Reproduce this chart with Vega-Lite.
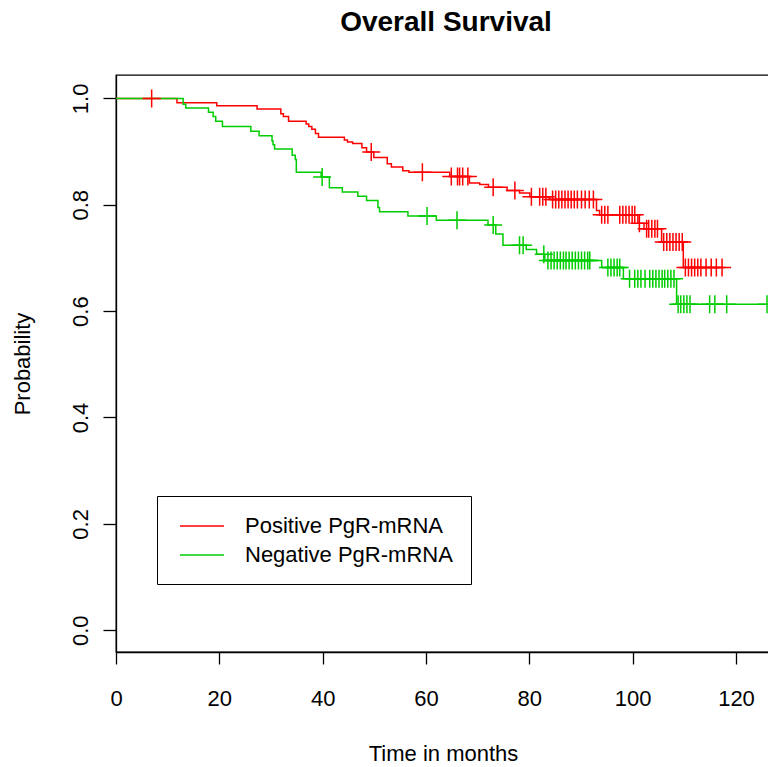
{
  "$schema": "https://vega.github.io/schema/vega-lite/v6.json",
  "width": 654,
  "height": 577,
  "autosize": "none",
  "padding": {"left": 116, "top": 75, "right": 0, "bottom": 115},
  "background": "white",
  "config": {
    "font": "Liberation Sans",
    "view": {"stroke": "black", "strokeWidth": 1.3},
    "axis": {"grid": false, "domainColor": "black", "tickColor": "black", "labelColor": "black", "titleColor": "black", "domainWidth": 1.3, "tickWidth": 1.3, "labelFont": "Liberation Sans", "titleFont": "Liberation Sans", "titleFontWeight": "normal"}
  },
  "title": {"text": "Overall Survival", "fontSize": 28, "fontWeight": "bold", "font": "Liberation Sans", "color": "black", "anchor": "middle", "offset": 38, "dx": 3},
  "datasets": {
    "km": [
      {"group": "Positive PgR-mRNA", "time": 0, "surv": 1.0, "censored": 0},
      {"group": "Positive PgR-mRNA", "time": 6.9, "surv": 1.0, "censored": 1},
      {"group": "Positive PgR-mRNA", "time": 11.8, "surv": 0.992, "censored": 0},
      {"group": "Positive PgR-mRNA", "time": 19.5, "surv": 0.986, "censored": 0},
      {"group": "Positive PgR-mRNA", "time": 27.3, "surv": 0.980, "censored": 0},
      {"group": "Positive PgR-mRNA", "time": 31.9, "surv": 0.971, "censored": 0},
      {"group": "Positive PgR-mRNA", "time": 32.4, "surv": 0.966, "censored": 0},
      {"group": "Positive PgR-mRNA", "time": 33.4, "surv": 0.957, "censored": 0},
      {"group": "Positive PgR-mRNA", "time": 36.8, "surv": 0.952, "censored": 0},
      {"group": "Positive PgR-mRNA", "time": 37.3, "surv": 0.947, "censored": 0},
      {"group": "Positive PgR-mRNA", "time": 37.9, "surv": 0.942, "censored": 0},
      {"group": "Positive PgR-mRNA", "time": 38.6, "surv": 0.934, "censored": 0},
      {"group": "Positive PgR-mRNA", "time": 39.2, "surv": 0.927, "censored": 0},
      {"group": "Positive PgR-mRNA", "time": 44.2, "surv": 0.922, "censored": 0},
      {"group": "Positive PgR-mRNA", "time": 44.8, "surv": 0.918, "censored": 0},
      {"group": "Positive PgR-mRNA", "time": 45.8, "surv": 0.915, "censored": 0},
      {"group": "Positive PgR-mRNA", "time": 47.6, "surv": 0.907, "censored": 0},
      {"group": "Positive PgR-mRNA", "time": 48.5, "surv": 0.899, "censored": 0},
      {"group": "Positive PgR-mRNA", "time": 49.4, "surv": 0.899, "censored": 1},
      {"group": "Positive PgR-mRNA", "time": 49.9, "surv": 0.889, "censored": 0},
      {"group": "Positive PgR-mRNA", "time": 52.5, "surv": 0.877, "censored": 0},
      {"group": "Positive PgR-mRNA", "time": 53.3, "surv": 0.871, "censored": 0},
      {"group": "Positive PgR-mRNA", "time": 55.5, "surv": 0.864, "censored": 0},
      {"group": "Positive PgR-mRNA", "time": 56.7, "surv": 0.861, "censored": 0},
      {"group": "Positive PgR-mRNA", "time": 59.3, "surv": 0.861, "censored": 1},
      {"group": "Positive PgR-mRNA", "time": 64.6, "surv": 0.853, "censored": 0},
      {"group": "Positive PgR-mRNA", "time": 64.9, "surv": 0.853, "censored": 1},
      {"group": "Positive PgR-mRNA", "time": 66.1, "surv": 0.853, "censored": 1},
      {"group": "Positive PgR-mRNA", "time": 66.5, "surv": 0.853, "censored": 1},
      {"group": "Positive PgR-mRNA", "time": 67.1, "surv": 0.853, "censored": 1},
      {"group": "Positive PgR-mRNA", "time": 68.1, "surv": 0.853, "censored": 1},
      {"group": "Positive PgR-mRNA", "time": 68.4, "surv": 0.841, "censored": 0},
      {"group": "Positive PgR-mRNA", "time": 70.4, "surv": 0.838, "censored": 0},
      {"group": "Positive PgR-mRNA", "time": 72.1, "surv": 0.833, "censored": 0},
      {"group": "Positive PgR-mRNA", "time": 73.0, "surv": 0.833, "censored": 1},
      {"group": "Positive PgR-mRNA", "time": 75.7, "surv": 0.827, "censored": 0},
      {"group": "Positive PgR-mRNA", "time": 77.2, "surv": 0.827, "censored": 1},
      {"group": "Positive PgR-mRNA", "time": 78.1, "surv": 0.822, "censored": 0},
      {"group": "Positive PgR-mRNA", "time": 80.1, "surv": 0.815, "censored": 0},
      {"group": "Positive PgR-mRNA", "time": 80.4, "surv": 0.815, "censored": 1},
      {"group": "Positive PgR-mRNA", "time": 82.0, "surv": 0.815, "censored": 1},
      {"group": "Positive PgR-mRNA", "time": 82.6, "surv": 0.815, "censored": 1},
      {"group": "Positive PgR-mRNA", "time": 83.2, "surv": 0.815, "censored": 1},
      {"group": "Positive PgR-mRNA", "time": 83.9, "surv": 0.810, "censored": 0},
      {"group": "Positive PgR-mRNA", "time": 84.5, "surv": 0.810, "censored": 1},
      {"group": "Positive PgR-mRNA", "time": 85.1, "surv": 0.810, "censored": 1},
      {"group": "Positive PgR-mRNA", "time": 85.7, "surv": 0.810, "censored": 1},
      {"group": "Positive PgR-mRNA", "time": 86.3, "surv": 0.810, "censored": 1},
      {"group": "Positive PgR-mRNA", "time": 86.9, "surv": 0.810, "censored": 1},
      {"group": "Positive PgR-mRNA", "time": 87.5, "surv": 0.810, "censored": 1},
      {"group": "Positive PgR-mRNA", "time": 88.1, "surv": 0.810, "censored": 1},
      {"group": "Positive PgR-mRNA", "time": 88.7, "surv": 0.810, "censored": 1},
      {"group": "Positive PgR-mRNA", "time": 89.3, "surv": 0.810, "censored": 1},
      {"group": "Positive PgR-mRNA", "time": 90.1, "surv": 0.810, "censored": 1},
      {"group": "Positive PgR-mRNA", "time": 90.8, "surv": 0.810, "censored": 1},
      {"group": "Positive PgR-mRNA", "time": 91.6, "surv": 0.810, "censored": 1},
      {"group": "Positive PgR-mRNA", "time": 92.4, "surv": 0.810, "censored": 1},
      {"group": "Positive PgR-mRNA", "time": 93.0, "surv": 0.789, "censored": 0},
      {"group": "Positive PgR-mRNA", "time": 93.6, "surv": 0.781, "censored": 0},
      {"group": "Positive PgR-mRNA", "time": 94.0, "surv": 0.781, "censored": 1},
      {"group": "Positive PgR-mRNA", "time": 94.6, "surv": 0.781, "censored": 1},
      {"group": "Positive PgR-mRNA", "time": 95.2, "surv": 0.781, "censored": 1},
      {"group": "Positive PgR-mRNA", "time": 97.5, "surv": 0.781, "censored": 1},
      {"group": "Positive PgR-mRNA", "time": 98.1, "surv": 0.781, "censored": 1},
      {"group": "Positive PgR-mRNA", "time": 98.7, "surv": 0.781, "censored": 1},
      {"group": "Positive PgR-mRNA", "time": 99.3, "surv": 0.781, "censored": 1},
      {"group": "Positive PgR-mRNA", "time": 99.9, "surv": 0.781, "censored": 1},
      {"group": "Positive PgR-mRNA", "time": 100.4, "surv": 0.781, "censored": 1},
      {"group": "Positive PgR-mRNA", "time": 101.0, "surv": 0.765, "censored": 0},
      {"group": "Positive PgR-mRNA", "time": 101.3, "surv": 0.765, "censored": 1},
      {"group": "Positive PgR-mRNA", "time": 102.2, "surv": 0.755, "censored": 0},
      {"group": "Positive PgR-mRNA", "time": 102.7, "surv": 0.755, "censored": 1},
      {"group": "Positive PgR-mRNA", "time": 103.1, "surv": 0.755, "censored": 1},
      {"group": "Positive PgR-mRNA", "time": 103.7, "surv": 0.755, "censored": 1},
      {"group": "Positive PgR-mRNA", "time": 104.3, "surv": 0.755, "censored": 1},
      {"group": "Positive PgR-mRNA", "time": 104.8, "surv": 0.755, "censored": 1},
      {"group": "Positive PgR-mRNA", "time": 105.6, "surv": 0.730, "censored": 0},
      {"group": "Positive PgR-mRNA", "time": 106.0, "surv": 0.730, "censored": 1},
      {"group": "Positive PgR-mRNA", "time": 106.6, "surv": 0.730, "censored": 1},
      {"group": "Positive PgR-mRNA", "time": 107.2, "surv": 0.730, "censored": 1},
      {"group": "Positive PgR-mRNA", "time": 107.8, "surv": 0.730, "censored": 1},
      {"group": "Positive PgR-mRNA", "time": 108.4, "surv": 0.730, "censored": 1},
      {"group": "Positive PgR-mRNA", "time": 109.0, "surv": 0.730, "censored": 1},
      {"group": "Positive PgR-mRNA", "time": 109.6, "surv": 0.730, "censored": 1},
      {"group": "Positive PgR-mRNA", "time": 109.8, "surv": 0.682, "censored": 0},
      {"group": "Positive PgR-mRNA", "time": 110.2, "surv": 0.682, "censored": 1},
      {"group": "Positive PgR-mRNA", "time": 110.8, "surv": 0.682, "censored": 1},
      {"group": "Positive PgR-mRNA", "time": 111.4, "surv": 0.682, "censored": 1},
      {"group": "Positive PgR-mRNA", "time": 112.0, "surv": 0.682, "censored": 1},
      {"group": "Positive PgR-mRNA", "time": 112.6, "surv": 0.682, "censored": 1},
      {"group": "Positive PgR-mRNA", "time": 113.2, "surv": 0.682, "censored": 1},
      {"group": "Positive PgR-mRNA", "time": 114.2, "surv": 0.682, "censored": 1},
      {"group": "Positive PgR-mRNA", "time": 115.2, "surv": 0.682, "censored": 1},
      {"group": "Positive PgR-mRNA", "time": 116.2, "surv": 0.682, "censored": 1},
      {"group": "Positive PgR-mRNA", "time": 117.3, "surv": 0.682, "censored": 1},
      {"group": "Negative PgR-mRNA", "time": 0, "surv": 1.0, "censored": 0},
      {"group": "Negative PgR-mRNA", "time": 13.0, "surv": 0.989, "censored": 0},
      {"group": "Negative PgR-mRNA", "time": 13.5, "surv": 0.982, "censored": 0},
      {"group": "Negative PgR-mRNA", "time": 17.9, "surv": 0.974, "censored": 0},
      {"group": "Negative PgR-mRNA", "time": 18.8, "surv": 0.966, "censored": 0},
      {"group": "Negative PgR-mRNA", "time": 19.3, "surv": 0.957, "censored": 0},
      {"group": "Negative PgR-mRNA", "time": 20.6, "surv": 0.947, "censored": 0},
      {"group": "Negative PgR-mRNA", "time": 26.1, "surv": 0.938, "censored": 0},
      {"group": "Negative PgR-mRNA", "time": 27.7, "surv": 0.930, "censored": 0},
      {"group": "Negative PgR-mRNA", "time": 30.2, "surv": 0.920, "censored": 0},
      {"group": "Negative PgR-mRNA", "time": 30.4, "surv": 0.913, "censored": 0},
      {"group": "Negative PgR-mRNA", "time": 30.7, "surv": 0.905, "censored": 0},
      {"group": "Negative PgR-mRNA", "time": 34.1, "surv": 0.893, "censored": 0},
      {"group": "Negative PgR-mRNA", "time": 34.7, "surv": 0.885, "censored": 0},
      {"group": "Negative PgR-mRNA", "time": 34.9, "surv": 0.861, "censored": 0},
      {"group": "Negative PgR-mRNA", "time": 39.7, "surv": 0.852, "censored": 0},
      {"group": "Negative PgR-mRNA", "time": 39.9, "surv": 0.852, "censored": 1},
      {"group": "Negative PgR-mRNA", "time": 41.3, "surv": 0.832, "censored": 0},
      {"group": "Negative PgR-mRNA", "time": 43.8, "surv": 0.824, "censored": 0},
      {"group": "Negative PgR-mRNA", "time": 46.8, "surv": 0.816, "censored": 0},
      {"group": "Negative PgR-mRNA", "time": 48.5, "surv": 0.808, "censored": 0},
      {"group": "Negative PgR-mRNA", "time": 50.7, "surv": 0.795, "censored": 0},
      {"group": "Negative PgR-mRNA", "time": 51.0, "surv": 0.787, "censored": 0},
      {"group": "Negative PgR-mRNA", "time": 56.5, "surv": 0.779, "censored": 0},
      {"group": "Negative PgR-mRNA", "time": 60.2, "surv": 0.779, "censored": 1},
      {"group": "Negative PgR-mRNA", "time": 62.0, "surv": 0.771, "censored": 0},
      {"group": "Negative PgR-mRNA", "time": 66.0, "surv": 0.771, "censored": 1},
      {"group": "Negative PgR-mRNA", "time": 72.0, "surv": 0.762, "censored": 0},
      {"group": "Negative PgR-mRNA", "time": 73.0, "surv": 0.762, "censored": 1},
      {"group": "Negative PgR-mRNA", "time": 73.5, "surv": 0.745, "censored": 0},
      {"group": "Negative PgR-mRNA", "time": 74.9, "surv": 0.724, "censored": 0},
      {"group": "Negative PgR-mRNA", "time": 78.1, "surv": 0.724, "censored": 1},
      {"group": "Negative PgR-mRNA", "time": 78.8, "surv": 0.724, "censored": 1},
      {"group": "Negative PgR-mRNA", "time": 79.4, "surv": 0.716, "censored": 0},
      {"group": "Negative PgR-mRNA", "time": 81.4, "surv": 0.707, "censored": 0},
      {"group": "Negative PgR-mRNA", "time": 82.8, "surv": 0.707, "censored": 1},
      {"group": "Negative PgR-mRNA", "time": 83.0, "surv": 0.695, "censored": 0},
      {"group": "Negative PgR-mRNA", "time": 83.6, "surv": 0.695, "censored": 1},
      {"group": "Negative PgR-mRNA", "time": 84.2, "surv": 0.695, "censored": 1},
      {"group": "Negative PgR-mRNA", "time": 84.8, "surv": 0.695, "censored": 1},
      {"group": "Negative PgR-mRNA", "time": 85.4, "surv": 0.695, "censored": 1},
      {"group": "Negative PgR-mRNA", "time": 86.0, "surv": 0.695, "censored": 1},
      {"group": "Negative PgR-mRNA", "time": 86.6, "surv": 0.695, "censored": 1},
      {"group": "Negative PgR-mRNA", "time": 87.1, "surv": 0.695, "censored": 1},
      {"group": "Negative PgR-mRNA", "time": 87.7, "surv": 0.695, "censored": 1},
      {"group": "Negative PgR-mRNA", "time": 88.3, "surv": 0.695, "censored": 1},
      {"group": "Negative PgR-mRNA", "time": 88.9, "surv": 0.695, "censored": 1},
      {"group": "Negative PgR-mRNA", "time": 89.5, "surv": 0.695, "censored": 1},
      {"group": "Negative PgR-mRNA", "time": 90.1, "surv": 0.695, "censored": 1},
      {"group": "Negative PgR-mRNA", "time": 90.7, "surv": 0.695, "censored": 1},
      {"group": "Negative PgR-mRNA", "time": 91.3, "surv": 0.695, "censored": 1},
      {"group": "Negative PgR-mRNA", "time": 91.7, "surv": 0.695, "censored": 1},
      {"group": "Negative PgR-mRNA", "time": 94.0, "surv": 0.682, "censored": 0},
      {"group": "Negative PgR-mRNA", "time": 95.2, "surv": 0.682, "censored": 1},
      {"group": "Negative PgR-mRNA", "time": 95.8, "surv": 0.682, "censored": 1},
      {"group": "Negative PgR-mRNA", "time": 96.4, "surv": 0.682, "censored": 1},
      {"group": "Negative PgR-mRNA", "time": 97.0, "surv": 0.682, "censored": 1},
      {"group": "Negative PgR-mRNA", "time": 97.5, "surv": 0.682, "censored": 1},
      {"group": "Negative PgR-mRNA", "time": 98.2, "surv": 0.661, "censored": 0},
      {"group": "Negative PgR-mRNA", "time": 99.4, "surv": 0.661, "censored": 1},
      {"group": "Negative PgR-mRNA", "time": 100.4, "surv": 0.661, "censored": 1},
      {"group": "Negative PgR-mRNA", "time": 101.0, "surv": 0.661, "censored": 1},
      {"group": "Negative PgR-mRNA", "time": 101.6, "surv": 0.661, "censored": 1},
      {"group": "Negative PgR-mRNA", "time": 102.4, "surv": 0.661, "censored": 1},
      {"group": "Negative PgR-mRNA", "time": 103.3, "surv": 0.661, "censored": 1},
      {"group": "Negative PgR-mRNA", "time": 103.9, "surv": 0.661, "censored": 1},
      {"group": "Negative PgR-mRNA", "time": 104.5, "surv": 0.661, "censored": 1},
      {"group": "Negative PgR-mRNA", "time": 105.1, "surv": 0.661, "censored": 1},
      {"group": "Negative PgR-mRNA", "time": 105.7, "surv": 0.661, "censored": 1},
      {"group": "Negative PgR-mRNA", "time": 106.2, "surv": 0.661, "censored": 1},
      {"group": "Negative PgR-mRNA", "time": 106.8, "surv": 0.661, "censored": 1},
      {"group": "Negative PgR-mRNA", "time": 107.4, "surv": 0.661, "censored": 1},
      {"group": "Negative PgR-mRNA", "time": 108.0, "surv": 0.661, "censored": 1},
      {"group": "Negative PgR-mRNA", "time": 108.5, "surv": 0.613, "censored": 0},
      {"group": "Negative PgR-mRNA", "time": 108.8, "surv": 0.613, "censored": 1},
      {"group": "Negative PgR-mRNA", "time": 109.3, "surv": 0.613, "censored": 1},
      {"group": "Negative PgR-mRNA", "time": 109.9, "surv": 0.613, "censored": 1},
      {"group": "Negative PgR-mRNA", "time": 110.5, "surv": 0.613, "censored": 1},
      {"group": "Negative PgR-mRNA", "time": 111.1, "surv": 0.613, "censored": 1},
      {"group": "Negative PgR-mRNA", "time": 114.9, "surv": 0.613, "censored": 1},
      {"group": "Negative PgR-mRNA", "time": 115.9, "surv": 0.613, "censored": 1},
      {"group": "Negative PgR-mRNA", "time": 118.2, "surv": 0.613, "censored": 1},
      {"group": "Negative PgR-mRNA", "time": 126.0, "surv": 0.613, "censored": 1}
    ]
  },
  "data": {"name": "km"},
  "encoding": {
    "x": {"field": "time", "type": "quantitative", "scale": {"domain": [0, 126.58], "nice": false, "zero": false},
      "axis": {"title": "Time in months", "values": [0, 20, 40, 60, 80, 100, 120], "tickSize": 12, "labelFontSize": 22, "labelBaseline": "top", "labelPadding": 24, "titleFontSize": 22, "titlePadding": 34, "labelFlush": false, "labelOverlap": false}},
    "y": {"field": "surv", "type": "quantitative", "scale": {"domain": [-0.041, 1.044], "nice": false, "zero": false},
      "axis": {"title": "Probability", "values": [0, 0.2, 0.4, 0.6, 0.8, 1.0], "format": ".1f", "tickSize": 13, "labelFontSize": 22, "labelAngle": 270, "labelAlign": "center", "labelBaseline": "alphabetic", "labelPadding": 16, "titleFontSize": 22, "titlePadding": 35, "labelFlush": false, "labelOverlap": false}}
  },
  "layer": [
    {
      "mark": {"type": "line", "interpolate": "step-after", "strokeWidth": 1.5, "clip": true},
      "encoding": {
        "color": {"field": "group", "type": "nominal",
          "scale": {"domain": ["Positive PgR-mRNA", "Negative PgR-mRNA"], "range": ["#ff0000", "#00cd00"]},
          "legend": {"title": null, "orient": "none", "legendX": 41, "legendY": 421, "strokeColor": "black", "padding": 18, "symbolType": "M-2,0H2", "symbolSize": 484, "symbolStrokeWidth": 1.5, "symbolOffset": 15, "labelOffset": 31, "labelFontSize": 22, "labelFont": "Liberation Sans", "labelColor": "black", "rowPadding": 6, "labelLimit": 400}}
      }
    },
    {
      "transform": [{"filter": "datum.censored == 1"}],
      "mark": {"type": "point", "shape": "M-1,0H1M0,-1V1", "filled": false, "size": 324, "strokeWidth": 1.5, "opacity": 1, "clip": true},
      "encoding": {
        "stroke": {"field": "group", "type": "nominal",
          "scale": {"domain": ["Positive PgR-mRNA", "Negative PgR-mRNA"], "range": ["#ff0000", "#00cd00"]},
          "legend": null}
      }
    }
  ]
}
